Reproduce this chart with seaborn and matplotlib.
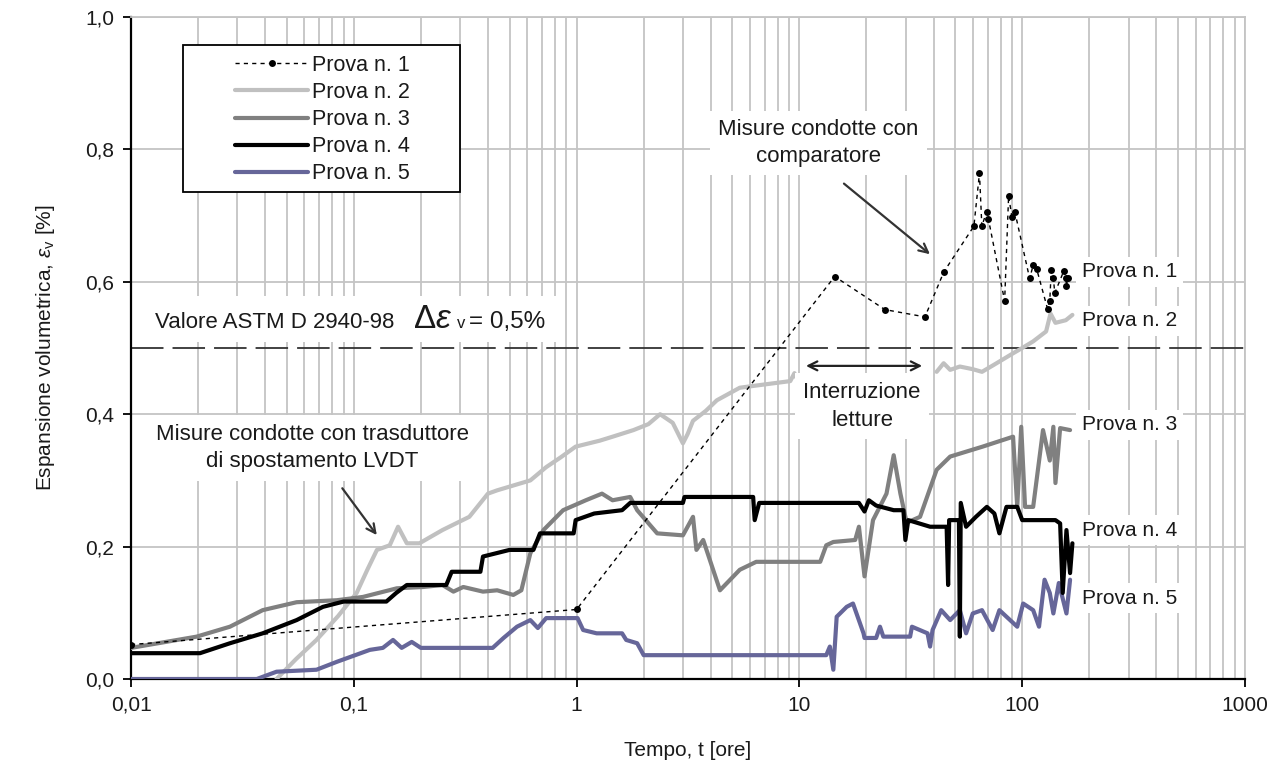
import numpy as np
import pandas as pd
import matplotlib
matplotlib.use("Agg")
import matplotlib.pyplot as plt
from matplotlib.patches import Rectangle
from matplotlib.lines import Line2D
import matplotlib.ticker as mticker
import seaborn as sns

# ---------------- data ----------------
p1_x = [0.01, 1.0, 14.4, 24.2, 36.6, 44.5, 60.7, 64.3, 65.9, 69.2, 70.5, 83.4, 86.9, 89.9, 92.8,
        108, 112, 116, 130, 133, 135, 138, 140, 154, 157, 158, 160]
p1_y = [0.052, 0.105, 0.608, 0.558, 0.547, 0.615, 0.684, 0.764, 0.684, 0.706, 0.695, 0.571, 0.730,
        0.698, 0.705, 0.605, 0.625, 0.620, 0.559, 0.571, 0.618, 0.606, 0.583, 0.617, 0.606, 0.593, 0.606]

p2a_x = [0.045, 0.055, 0.068, 0.085, 0.103, 0.115, 0.127, 0.145, 0.158, 0.173, 0.197, 0.25, 0.33,
         0.40, 0.44, 0.62, 0.73, 0.85, 0.99, 1.27, 1.45, 1.8, 2.1, 2.37, 2.7, 3.0, 3.15, 3.33, 3.8,
         4.26, 5.4, 7.0, 9.1, 9.5, 9.7]
p2a_y = [0.0, 0.03, 0.059, 0.095, 0.13, 0.165, 0.195, 0.202, 0.23, 0.205, 0.205, 0.225, 0.245,
         0.28, 0.285, 0.30, 0.32, 0.335, 0.351, 0.36, 0.366, 0.376, 0.385, 0.40, 0.387, 0.356, 0.37,
         0.39, 0.405, 0.421, 0.44, 0.445, 0.45, 0.462, 0.455]
p2b_x = [41.3, 44.4, 47.5, 52.5, 60, 66, 75, 91, 100, 112, 128, 134, 141, 157, 168]
p2b_y = [0.464, 0.477, 0.467, 0.472, 0.468, 0.464, 0.475, 0.492, 0.50, 0.51, 0.525, 0.552, 0.538,
         0.542, 0.55]

p3_x = [0.01, 0.0197, 0.0278, 0.039, 0.0554, 0.084, 0.11, 0.156, 0.205, 0.25, 0.28, 0.31, 0.38,
        0.44, 0.52, 0.565, 0.62, 0.71, 0.87, 1.1, 1.3, 1.45, 1.74, 1.87, 2.3, 3.0, 3.33, 3.45, 3.7,
        4.4, 5.4, 6.4, 12.4, 13.2, 14.2, 17.8, 18.5, 19.6, 21.4, 24.6, 26.5, 28.4, 30.3, 34.8, 41.3,
        47.5, 66.4, 91, 95, 99, 103, 112, 124, 133, 138, 141, 148, 164]
p3_y = [0.047, 0.064, 0.079, 0.104, 0.116, 0.119, 0.124, 0.137, 0.139, 0.142, 0.132, 0.139, 0.132,
        0.134, 0.127, 0.134, 0.19, 0.225, 0.255, 0.27, 0.28, 0.27, 0.275, 0.255, 0.22, 0.217, 0.245,
        0.195, 0.21, 0.134, 0.165, 0.177, 0.177, 0.202, 0.207, 0.21, 0.23, 0.155, 0.24, 0.28, 0.338,
        0.28, 0.236, 0.245, 0.316, 0.336, 0.351, 0.366, 0.26, 0.381, 0.26, 0.26, 0.376, 0.33, 0.381,
        0.296, 0.379, 0.376]

p4_x = [0.01, 0.0204, 0.0278, 0.039, 0.0554, 0.0727, 0.09, 0.14, 0.155, 0.173, 0.26, 0.275, 0.37,
        0.38, 0.50, 0.64, 0.685, 0.97, 0.99, 1.2, 1.6, 1.74, 3.0, 3.05, 6.2, 6.3, 6.6, 18.5, 19.6,
        20.5, 22.1, 26.5, 29.3, 29.9, 30.8, 38.6, 45.8, 46.5, 47, 52, 52.5, 53, 56, 62, 69.4, 75, 79,
        85, 95, 100, 112, 141, 148, 152, 158, 164, 168]
p4_y = [0.039, 0.039, 0.054, 0.069, 0.089, 0.109, 0.117, 0.117, 0.13, 0.142, 0.142, 0.162, 0.162,
        0.185, 0.195, 0.195, 0.22, 0.22, 0.24, 0.25, 0.255, 0.266, 0.266, 0.275, 0.275, 0.24, 0.266,
        0.266, 0.253, 0.27, 0.262, 0.255, 0.255, 0.21, 0.24, 0.23, 0.23, 0.142, 0.24, 0.24, 0.064,
        0.266, 0.23, 0.245, 0.26, 0.25, 0.22, 0.26, 0.26, 0.24, 0.24, 0.24, 0.235, 0.13, 0.225, 0.16,
        0.205]

p5_x = [0.01, 0.0367, 0.045, 0.068, 0.084, 0.118, 0.135, 0.15, 0.164, 0.182, 0.2, 0.42, 0.47, 0.54,
        0.62, 0.67, 0.73, 1.01, 1.07, 1.23, 1.6, 1.67, 1.87, 2.0, 13.2, 13.7, 14.2, 14.7, 16.3, 17.4,
        19.4, 19.6, 22.1, 23, 23.8, 31.4, 32, 37.6, 38.6, 39.6, 43.3, 47.5, 52.5, 56, 60, 66, 73.7,
        79, 95, 101, 112, 119, 126, 133, 138, 146, 158, 164]
p5_y = [0.0, 0.0, 0.011, 0.014, 0.026, 0.044, 0.047, 0.059, 0.047, 0.056, 0.047, 0.047, 0.062,
        0.079, 0.089, 0.077, 0.092, 0.092, 0.074, 0.069, 0.069, 0.059, 0.054, 0.036, 0.036, 0.049,
        0.014, 0.094, 0.109, 0.114, 0.069, 0.062, 0.062, 0.079, 0.064, 0.064, 0.079, 0.069, 0.049,
        0.074, 0.104, 0.089, 0.104, 0.069, 0.099, 0.104, 0.074, 0.104, 0.079, 0.114, 0.104, 0.079,
        0.15, 0.13, 0.099, 0.145, 0.099, 0.15]

series_names = ["Prova n. 1", "Prova n. 2", "Prova n. 3", "Prova n. 4", "Prova n. 5"]
x_ticks = [0.01, 0.1, 1, 10, 100, 1000]
x_tick_labels = ["0,01", "0,1", "1", "10", "100", "1000"]
y_ticks = [0.0, 0.2, 0.4, 0.6, 0.8, 1.0]
y_tick_labels = ["0,0", "0,2", "0,4", "0,6", "0,8", "1,0"]
astm_value = 0.5

# ---------------- style ----------------
sns.set_theme(style="white")
plt.rcParams["font.family"] = ["Liberation Sans", "DejaVu Sans"]
plt.rcParams["mathtext.fontset"] = "custom"
plt.rcParams["mathtext.rm"] = "Liberation Sans"
plt.rcParams["mathtext.it"] = "Liberation Sans:italic"
FS = 15
FS_ANN = 16
TXT = "#1a1a1a"

fig = plt.figure(figsize=(12.72, 7.68), dpi=100)
ax = fig.add_axes([131 / 1272, 1 - 679 / 768, (1245 - 131) / 1272, (679 - 17) / 768])

c2, c3, c4, c5 = "#c0c0c0", "#808080", "#000000", "#666699"

df2 = pd.DataFrame({"x": p2a_x + p2b_x, "y": p2a_y + p2b_y,
                    "seg": [0] * len(p2a_x) + [1] * len(p2b_x)})
sns.lineplot(data=df2, x="x", y="y", units="seg", estimator=None, sort=False,
             color=c2, lw=3.0, ax=ax, zorder=3)
sns.lineplot(x=p3_x, y=p3_y, sort=False, estimator=None, color=c3, lw=3.0, ax=ax, zorder=3)
sns.lineplot(x=p4_x, y=p4_y, sort=False, estimator=None, color=c4, lw=3.0, ax=ax, zorder=4)
sns.lineplot(x=p5_x, y=p5_y, sort=False, estimator=None, color=c5, lw=3.0, ax=ax, zorder=3)
sns.lineplot(x=p1_x, y=p1_y, sort=False, estimator=None, color="black", lw=1.0,
             ls=(0, (3, 3)), marker="o", markersize=5, markeredgewidth=0, ax=ax, zorder=5)

ax.axhline(astm_value, color="#333333", lw=1.3, dashes=(18, 5), zorder=2)

ax.set_xscale("log")
ax.set_xlim(0.01, 1000)
ax.set_ylim(0, 1.0)
ax.set_xticks(x_ticks)
ax.set_xticklabels(x_tick_labels)
ax.set_yticks(y_ticks)
ax.set_yticklabels(y_tick_labels)
ax.xaxis.set_minor_locator(mticker.LogLocator(base=10, subs=np.arange(2, 10), numticks=20))
ax.xaxis.set_minor_formatter(mticker.NullFormatter())
ax.grid(True, which="both", axis="x", color="#c4c4c4", lw=1.3, zorder=0)
ax.grid(True, which="major", axis="y", color="#c4c4c4", lw=1.3, zorder=0)
ax.set_axisbelow(True)
ax.tick_params(axis="both", which="major", direction="out", length=6, width=1.3,
               color="black", labelsize=FS, labelcolor=TXT, pad=6, bottom=True, left=True)
ax.tick_params(axis="x", which="minor", length=0)
for s in ["left", "bottom"]:
    ax.spines[s].set_color("black")
    ax.spines[s].set_linewidth(1.6)
for s in ["top", "right"]:
    ax.spines[s].set_color("#c4c4c4")
    ax.spines[s].set_linewidth(1.3)

ax.set_xlabel("Tempo, t [ore]", fontsize=FS, color=TXT, labelpad=19)
ax.set_ylabel(r"Espansione volumetrica, $\varepsilon_{\mathrm{v}}$ [%]", fontsize=FS,
              color=TXT, labelpad=20)

# ---------------- legend ----------------
handles = [
    Line2D([], [], color="black", lw=1.0, ls=(0, (3, 3)), marker="o", markersize=5,
           markeredgewidth=0, markevery=[1]),
    Line2D([], [], color=c2, lw=3.0),
    Line2D([], [], color=c3, lw=3.0),
    Line2D([], [], color=c4, lw=3.0),
    Line2D([], [], color=c5, lw=3.0),
]
for h in handles[1:]:
    h.set_solid_capstyle("round")
leg = ax.legend(handles, series_names, loc="upper left",
                bbox_to_anchor=((235 - 131) / 1114, (679 - 55) / 662), borderaxespad=0,
                frameon=False, fontsize=15.5, handlelength=3.4, handletextpad=0.2,
                labelspacing=0.28, borderpad=0)
for t in leg.get_texts():
    t.set_color(TXT)
ax.add_patch(Rectangle(((183 - 131) / 1114, (679 - 192) / 662), (460 - 183) / 1114,
                       (192 - 45) / 662, transform=ax.transAxes, fill=True, fc="white",
                       ec="black", lw=1.3, zorder=6))
leg.set_zorder(7)

# ---------------- annotations ----------------
box = dict(fc="white", ec="none", pad=6)
ax.text(0.617, 0.81, "Misure condotte con\ncomparatore", transform=ax.transAxes, ha="center",
        va="center", fontsize=FS_ANN, color=TXT, bbox=box, zorder=6, linespacing=1.35)
ax.annotate("", xy=(39.4, 0.639), xytext=(15.5, 0.751),
            arrowprops=dict(arrowstyle="->", color="#333333", lw=1.6, mutation_scale=16),
            zorder=6)
ax.text(0.163, 0.349, "Misure condotte con trasduttore\ndi spostamento LVDT",
        transform=ax.transAxes, ha="center", va="center", fontsize=FS_ANN, color=TXT, bbox=box,
        zorder=6, linespacing=1.4)
ax.annotate("", xy=(0.129, 0.214), xytext=(0.0873, 0.2915),
            arrowprops=dict(arrowstyle="->", color="#333333", lw=1.6, mutation_scale=16),
            zorder=6)
ax.annotate("", xy=(36.6, 0.473), xytext=(10.4, 0.473),
            arrowprops=dict(arrowstyle="<->", color="#222222", lw=1.6, mutation_scale=16),
            zorder=6)
ax.text(19.1, 0.412, "Interruzione\nletture", ha="center", va="center", fontsize=FS_ANN,
        color=TXT, bbox=box, zorder=6, linespacing=1.45)

# ASTM label
ax.add_patch(Rectangle(((142 - 131) / 1114, (679 - 342) / 662), (556 - 142) / 1114,
                       (342 - 296) / 662, transform=ax.transAxes, fc="white", ec="none",
                       zorder=1.5))
ax.text((155 - 131) / 1114, (679 - 322) / 662, "Valore ASTM D 2940-98", transform=ax.transAxes,
        ha="left", va="center", fontsize=FS_ANN, color=TXT, zorder=6)
ax.text((413 - 131) / 1114, (679 - 320) / 662, r"$\Delta\varepsilon$", transform=ax.transAxes,
        ha="left", va="center", fontsize=24, color=TXT, zorder=6)
ax.text((457 - 131) / 1114, (679 - 324) / 662, "v", transform=ax.transAxes,
        ha="left", va="center", fontsize=12, color=TXT, zorder=6)
ax.text((469 - 131) / 1114, (679 - 322) / 662, "= 0,5%", transform=ax.transAxes,
        ha="left", va="center", fontsize=17.5, color=TXT, zorder=6)

# right-side series labels
label_y = [0.615, 0.541, 0.384, 0.225, 0.122]
for name, yy in zip(series_names, label_y):
    ax.text((1082 - 131) / 1114, yy, name, transform=ax.get_yaxis_transform(), ha="left",
            va="center", fontsize=FS, color=TXT, bbox=dict(fc="white", ec="none", pad=4),
            zorder=6)

fig.savefig("out.png", dpi=100)
